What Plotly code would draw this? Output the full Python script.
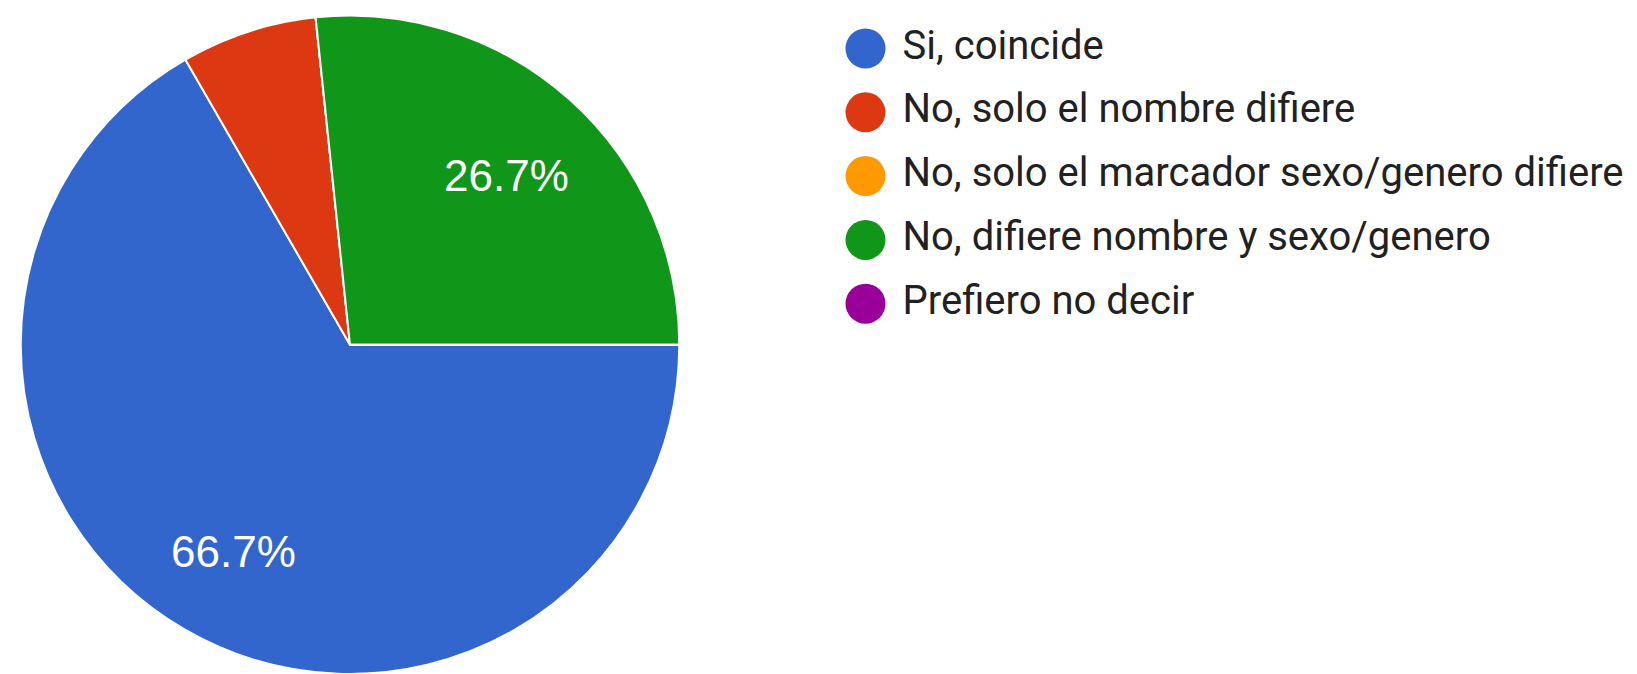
import math
import plotly.graph_objects as go

labels = [
    "Si, coincide",
    "No, solo el nombre difiere",
    "No, solo el marcador sexo/genero difiere",
    "No, difiere nombre y sexo/genero",
    "Prefiero no decir",
]
counts = [10, 1, 0, 4, 0]
colors = ["#3366CC", "#DC3912", "#FF9900", "#109618", "#990099"]
show_label = [True, False, False, True, False]

W, H = 1637, 674
dom_x = [18.5 / W, 681.5 / W]
dom_y = [0.0, 0.977]
start_rot = 90  # degrees clockwise from 12 o'clock

fig = go.Figure()

fig.add_trace(go.Pie(
    labels=labels,
    values=counts,
    sort=False,
    direction="clockwise",
    rotation=start_rot,
    marker=dict(colors=colors, line=dict(color="white", width=2)),
    textinfo="none",
    domain=dict(x=dom_x, y=dom_y),
    showlegend=False,
    hoverinfo="label+percent",
))

# Percentage labels placed like the original chart (about 0.7 of the radius)
cx = W * (dom_x[0] + dom_x[1]) / 2
cy = H * (1 - (dom_y[0] + dom_y[1]) / 2)
R = min(W * (dom_x[1] - dom_x[0]), H * (dom_y[1] - dom_y[0])) / 2
total = sum(counts)
cum = 0.0
for lab, v, s in zip(labels, counts, show_label):
    frac = v / total
    if s and v > 0:
        mid = math.radians(start_rot + 360 * (cum + frac / 2))
        r = 0.71 * R
        px = cx + r * math.sin(mid)
        py = cy - r * math.cos(mid)
        fig.add_annotation(
            x=px / W, y=1 - py / H, xref="paper", yref="paper",
            text=f"{100 * frac:.1f}%", showarrow=False,
            font=dict(family="Arial, Liberation Sans, sans-serif", size=44, color="white"),
            xanchor="center", yanchor="middle", yshift=-4,
        )
    cum += frac

# Custom legend: one circle + label per category
rows = list(range(len(labels)))
fig.add_trace(go.Scatter(
    x=[0] * len(labels),
    y=rows,
    mode="markers",
    marker=dict(size=40, color=colors, symbol="circle"),
    showlegend=False,
    hoverinfo="skip",
))
fig.add_trace(go.Scatter(
    x=[37] * len(labels),
    y=rows,
    mode="text",
    text=labels,
    textposition="middle right",
    textfont=dict(family="Roboto, sans-serif", size=40, color="#212121"),
    showlegend=False,
    hoverinfo="skip",
))

row0, spacing, xm = 48.5, 63.8, 865.5
fig.update_layout(
    width=W,
    height=H,
    margin=dict(l=0, r=0, t=0, b=0),
    paper_bgcolor="white",
    plot_bgcolor="rgba(0,0,0,0)",
    xaxis=dict(visible=False, range=[-xm, W - xm], domain=[0, 1], fixedrange=True),
    yaxis=dict(visible=False, range=[(H - row0) / spacing, -row0 / spacing], domain=[0, 1], fixedrange=True),
    showlegend=False,
)

fig.write_html(
    "out.html",
    config={"displayModeBar": False},
    post_script="document.body.style.margin='0';document.body.style.overflow='hidden';",
)
